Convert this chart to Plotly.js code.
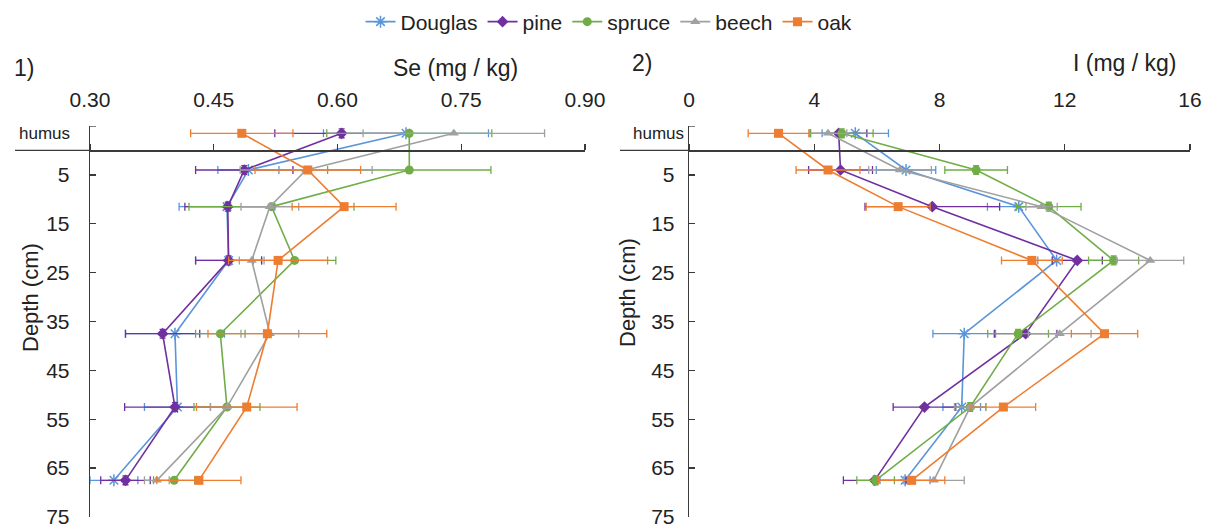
<!DOCTYPE html>
<html>
<head>
<meta charset="utf-8">
<script src="https://cdn.plot.ly/plotly-3.0.1.min.js"></script>
<style>html,body{margin:0;padding:0;background:#fff}#chart{width:1218px;height:532px}</style>
</head>
<body>
<div id="chart"></div>
<script>
// depth of each sampled layer (cm), humus plotted above 0
const depth = [-3.5, 4, 11.5, 22.5, 37.5, 52.5, 67.5];
const seriesNames = ['Douglas', 'pine', 'spruce', 'beech', 'oak'];

// Se (mg/kg)
const seDouglas = [0.683, 0.492, 0.466, 0.468, 0.403, 0.406, 0.329];
const sePine    = [0.605, 0.487, 0.467, 0.468, 0.388, 0.403, 0.343];
const seSpruce  = [0.687, 0.687, 0.520, 0.548, 0.458, 0.466, 0.402];
const seBeech   = [0.741, 0.562, 0.518, 0.496, 0.518, 0.466, 0.381];
const seOak     = [0.484, 0.564, 0.608, 0.528, 0.515, 0.490, 0.432];
const seDouglasSD = [0.100, 0.037, 0.058, 0.040, 0.060, 0.040, 0.029];
const sePineSD    = [0.081, 0.059, 0.052, 0.040, 0.045, 0.061, 0.030];
const seSpruceSD  = [0.100, 0.099, 0.100, 0.050, 0.030, 0.040, 0.025];
const seBeechSD   = [0.110, 0.080, 0.035, 0.015, 0.035, 0.020, 0.015];
const seOakSD     = [0.062, 0.064, 0.063, 0.060, 0.072, 0.061, 0.051];

// I (mg/kg)
const iDouglas = [5.31, 6.93, 10.53, 11.74, 8.79, 8.71, 6.90];
const iPine    = [4.78, 4.84, 7.77, 12.40, 10.75, 7.52, 5.93];
const iSpruce  = [4.88, 9.17, 11.49, 13.56, 10.51, 8.98, 5.96];
const iBeech   = [4.44, 6.74, 11.26, 14.73, 11.84, 8.98, 7.82];
const iOak     = [2.86, 4.44, 6.68, 10.95, 13.27, 10.04, 7.11];
const iDouglasSD = [1.06, 0.95, 1.00, 0.60, 1.00, 0.60, 0.80];
const iPineSD    = [0.90, 1.02, 2.15, 0.80, 1.00, 1.00, 1.00];
const iSpruceSD  = [1.00, 1.00, 1.03, 0.80, 0.97, 0.50, 0.60];
const iBeechSD   = [0.60, 1.00, 0.50, 1.07, 1.00, 0.50, 0.97];
const iOakSD     = [0.97, 1.02, 1.02, 0.97, 1.06, 1.03, 1.06];

const seTicks = [0.30, 0.45, 0.60, 0.75, 0.90];
const iTicks = [0, 4, 8, 12, 16];
const depthTicks = [5, 15, 25, 35, 45, 55, 65, 75];

const colors = {Douglas: '#5b95d9', pine: '#7030a0', spruce: '#70ad47', beech: '#a0a0a0', oak: '#ed7d31'};
const symbols = {Douglas: 'asterisk-open', pine: 'diamond', spruce: 'circle', beech: 'triangle-up', oak: 'square'};
const sizes = {Douglas: 10, pine: 9, spruce: 9, beech: 9, oak: 9};

const seVals = {Douglas: seDouglas, pine: sePine, spruce: seSpruce, beech: seBeech, oak: seOak};
const seSD = {Douglas: seDouglasSD, pine: sePineSD, spruce: seSpruceSD, beech: seBeechSD, oak: seOakSD};
const iVals = {Douglas: iDouglas, pine: iPine, spruce: iSpruce, beech: iBeech, oak: iOak};
const iSD = {Douglas: iDouglasSD, pine: iPineSD, spruce: iSpruceSD, beech: iBeechSD, oak: iOakSD};

const W = 1218, H = 532;
const px = v => v / W;
const py = v => 1 - v / H;

const traces = [];
function mk(name, xs, sd, xa, ya, show, vert) {
  const t = {
    type: 'scatter', mode: 'lines+markers', name: name, legendgroup: name, showlegend: show,
    x: xs, y: depth, xaxis: xa, yaxis: ya,
    line: {color: colors[name], width: 1.6},
    marker: {symbol: symbols[name], size: sizes[name], color: colors[name],
             line: {color: colors[name], width: name === 'Douglas' ? 1.5 : 0}},
    error_x: {type: 'data', array: sd, visible: true, color: colors[name], thickness: 1.3, width: 4}
  };
  if (vert) t.error_y = {type: 'constant', value: 0.9, visible: true, color: colors[name], thickness: 1.3, width: 3};
  return t;
}
seriesNames.forEach(n => traces.push(mk(n, seVals[n], seSD[n], 'x', 'y', true, n === 'pine')));
seriesNames.forEach(n => traces.push(mk(n, iVals[n], iSD[n], 'x2', 'y2', false, n === 'spruce')));

const yTop = 126, yBot = 517;
const yDom = [py(yBot), py(yTop)];
const zeroPos = py(yTop + (yBot - yTop) * 5 / 80);
const font = 'Liberation Sans, Arial, sans-serif';
const axCol = '#3a3a3a';

function xax(dom, range, ticks, fmt) {
  return {domain: dom, range: range, tickvals: ticks, tickformat: fmt, side: 'top', anchor: 'free',
    position: zeroPos, showline: true, linecolor: axCol, linewidth: 1.3,
    ticks: 'outside', ticklen: 6, tickcolor: axCol, tickwidth: 1.3, showgrid: false, zeroline: false,
    tickfont: {size: 21, color: '#222'}, ticklabelstandoff: 29, fixedrange: true, automargin: false};
}
function yax(xa, stand) {
  return {domain: yDom, range: [75, -5], anchor: xa, tickvals: depthTicks, ticks: 'inside', ticklen: 6,
    tickcolor: axCol, tickwidth: 1.3, showline: true, linecolor: axCol, linewidth: 1.3,
    showgrid: false, zeroline: false, tickfont: {size: 21, color: '#222'}, ticklabelstandoff: stand,
    automargin: false, fixedrange: true};
}

const layout = {
  width: W, height: H, margin: {l: 0, r: 0, t: 0, b: 0},
  paper_bgcolor: '#fff', plot_bgcolor: 'rgba(0,0,0,0)',
  font: {family: font, size: 21, color: '#222'},
  xaxis: xax([px(90), px(585)], [0.30, 0.90], seTicks, '.2f'),
  yaxis: yax('x', 15),
  xaxis2: xax([px(689), px(1190)], [0, 16], iTicks, 'd'),
  yaxis2: yax('x2', 9),
  showlegend: true,
  legend: {orientation: 'h', x: 0.5, xanchor: 'center', y: py(22), yanchor: 'middle',
           font: {size: 21, color: '#222'}, itemwidth: 30, tracegroupgap: 0, bgcolor: 'rgba(0,0,0,0)'},
  shapes: [
    {type: 'line', xref: 'paper', yref: 'y', x0: px(15), x1: px(90), y0: 0, y1: 0, line: {color: axCol, width: 1.3}},
    {type: 'line', xref: 'paper', yref: 'y2', x0: px(620), x1: px(689), y0: 0, y1: 0, line: {color: axCol, width: 1.3}},
    {type: 'line', xref: 'paper', yref: 'y', x0: px(90), x1: px(96), y0: -5, y1: -5, line: {color: axCol, width: 1.3}},
    {type: 'line', xref: 'paper', yref: 'y2', x0: px(689), x1: px(695), y0: -5, y1: -5, line: {color: axCol, width: 1.3}}
  ],
  annotations: [
    {text: 'humus', xref: 'paper', yref: 'y', x: px(72), y: -3.5, xanchor: 'right', yanchor: 'middle', showarrow: false, font: {size: 17}},
    {text: 'humus', xref: 'paper', yref: 'y2', x: px(686), y: -3.5, xanchor: 'right', yanchor: 'middle', showarrow: false, font: {size: 17}},
    {text: '1)', xref: 'paper', yref: 'paper', x: px(12), y: py(68), xanchor: 'left', yanchor: 'middle', showarrow: false, font: {size: 23}},
    {text: '2)', xref: 'paper', yref: 'paper', x: px(630), y: py(63), xanchor: 'left', yanchor: 'middle', showarrow: false, font: {size: 23}},
    {text: 'Se (mg / kg)', xref: 'paper', yref: 'paper', x: px(455), y: py(68), xanchor: 'center', yanchor: 'middle', showarrow: false, font: {size: 23}},
    {text: 'I (mg / kg)', xref: 'paper', yref: 'paper', x: px(1125), y: py(63), xanchor: 'center', yanchor: 'middle', showarrow: false, font: {size: 23}},
    {text: 'Depth (cm)', xref: 'paper', yref: 'paper', x: px(30), y: py(298), xanchor: 'center', yanchor: 'middle', textangle: -90, showarrow: false, font: {size: 22}},
    {text: 'Depth (cm)', xref: 'paper', yref: 'paper', x: px(627), y: py(293), xanchor: 'center', yanchor: 'middle', textangle: -90, showarrow: false, font: {size: 22}}
  ]
};

Plotly.newPlot('chart', traces, layout, {displayModeBar: false, staticPlot: true});
</script>
</body>
</html>
